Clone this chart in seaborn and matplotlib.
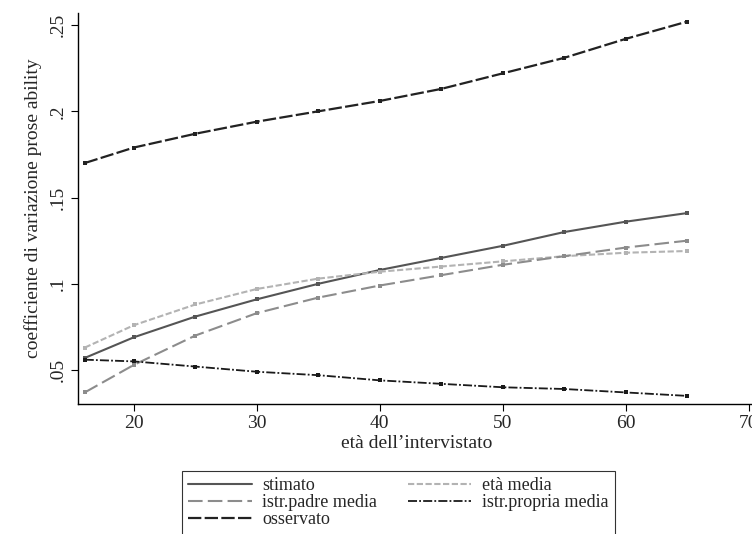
import matplotlib
matplotlib.use("Agg")
import matplotlib.pyplot as plt
import seaborn as sns
import pandas as pd

eta = [16, 20, 25, 30, 35, 40, 45, 50, 55, 60, 65]
stimato = [0.057, 0.069, 0.081, 0.091, 0.100, 0.108, 0.115, 0.122, 0.130, 0.136, 0.141]
eta_media = [0.063, 0.076, 0.088, 0.097, 0.103, 0.107, 0.110, 0.113, 0.116, 0.118, 0.119]
istr_padre = [0.037, 0.053, 0.070, 0.083, 0.092, 0.099, 0.105, 0.111, 0.116, 0.121, 0.125]
istr_propria = [0.056, 0.055, 0.052, 0.049, 0.047, 0.044, 0.042, 0.040, 0.039, 0.037, 0.035]
osservato = [0.170, 0.179, 0.187, 0.194, 0.200, 0.206, 0.213, 0.222, 0.231, 0.242, 0.252]

x_ticks = [20, 30, 40, 50, 60, 70]
y_ticks = [0.05, 0.10, 0.15, 0.20, 0.25]
y_ticklabels = [".05", ".1", ".15", ".2", ".25"]

series = [
    ("stimato", stimato, "#555555", (None, None), 1.5),
    ("età media", eta_media, "#b3b3b3", (3, 1.2), 1.5),
    ("istr.padre media", istr_padre, "#8c8c8c", (7, 2.5), 1.5),
    ("istr.propria media", istr_propria, "#1a1a1a", (5, 1.2, 1, 1.2), 1.3),
    ("osservato", osservato, "#222222", (6, 1.5), 1.6),
]

sns.set_style("white")
plt.rcParams['font.family'] = ['Liberation Serif', 'DejaVu Serif']

fig = plt.figure(figsize=(7.52, 5.34), dpi=100)
ax = fig.add_axes([78 / 752, 130 / 534, 678 / 752, 391 / 534])

handles = []
for name, vals, col, dash, lw in series:
    df = pd.DataFrame({"eta": eta, "val": vals})
    sns.lineplot(data=df, x="eta", y="val", ax=ax, color=col, linewidth=lw,
                 marker="s", markersize=2.5, markeredgewidth=0)
    line = ax.lines[-1]
    if dash[0] is not None:
        line.set_dashes(dash)
    handles.append(line)

ax.set_xlim(15.45, 70.6)
ax.set_ylim(0.0303, 0.257)
ax.set_xticks(x_ticks)
ax.set_yticks(y_ticks)
ax.set_yticklabels(y_ticklabels, rotation=90, va="center")
ax.tick_params(axis="both", direction="out", length=5, width=0.8, color="black",
               labelsize=14, pad=3, bottom=True, left=True)
for s in ["top", "right"]:
    ax.spines[s].set_visible(False)
for s in ["left", "bottom"]:
    ax.spines[s].set_color("black")
    ax.spines[s].set_linewidth(1.0)

ax.set_xlabel("età dell’intervistato", fontsize=14, labelpad=2)
ax.set_ylabel("coefficiente di variazione prose ability", fontsize=14, labelpad=6)

labels = [s[0] for s in series]
order = [0, 2, 4, 1, 3]
leg = fig.legend([handles[i] for i in order], [labels[i] for i in order],
                 loc="upper left", bbox_to_anchor=(182 / 752, 1 - 471 / 534),
                 borderaxespad=0, ncol=2, fontsize=13, frameon=True, fancybox=False,
                 handlelength=3.5, handletextpad=0.6, columnspacing=1.7,
                 labelspacing=0.0, borderpad=0.35)
leg.get_frame().set_edgecolor("black")
leg.get_frame().set_linewidth(0.8)
for h in leg.legend_handles:
    h.set_marker("")

fig.savefig("out.png", dpi=100)
